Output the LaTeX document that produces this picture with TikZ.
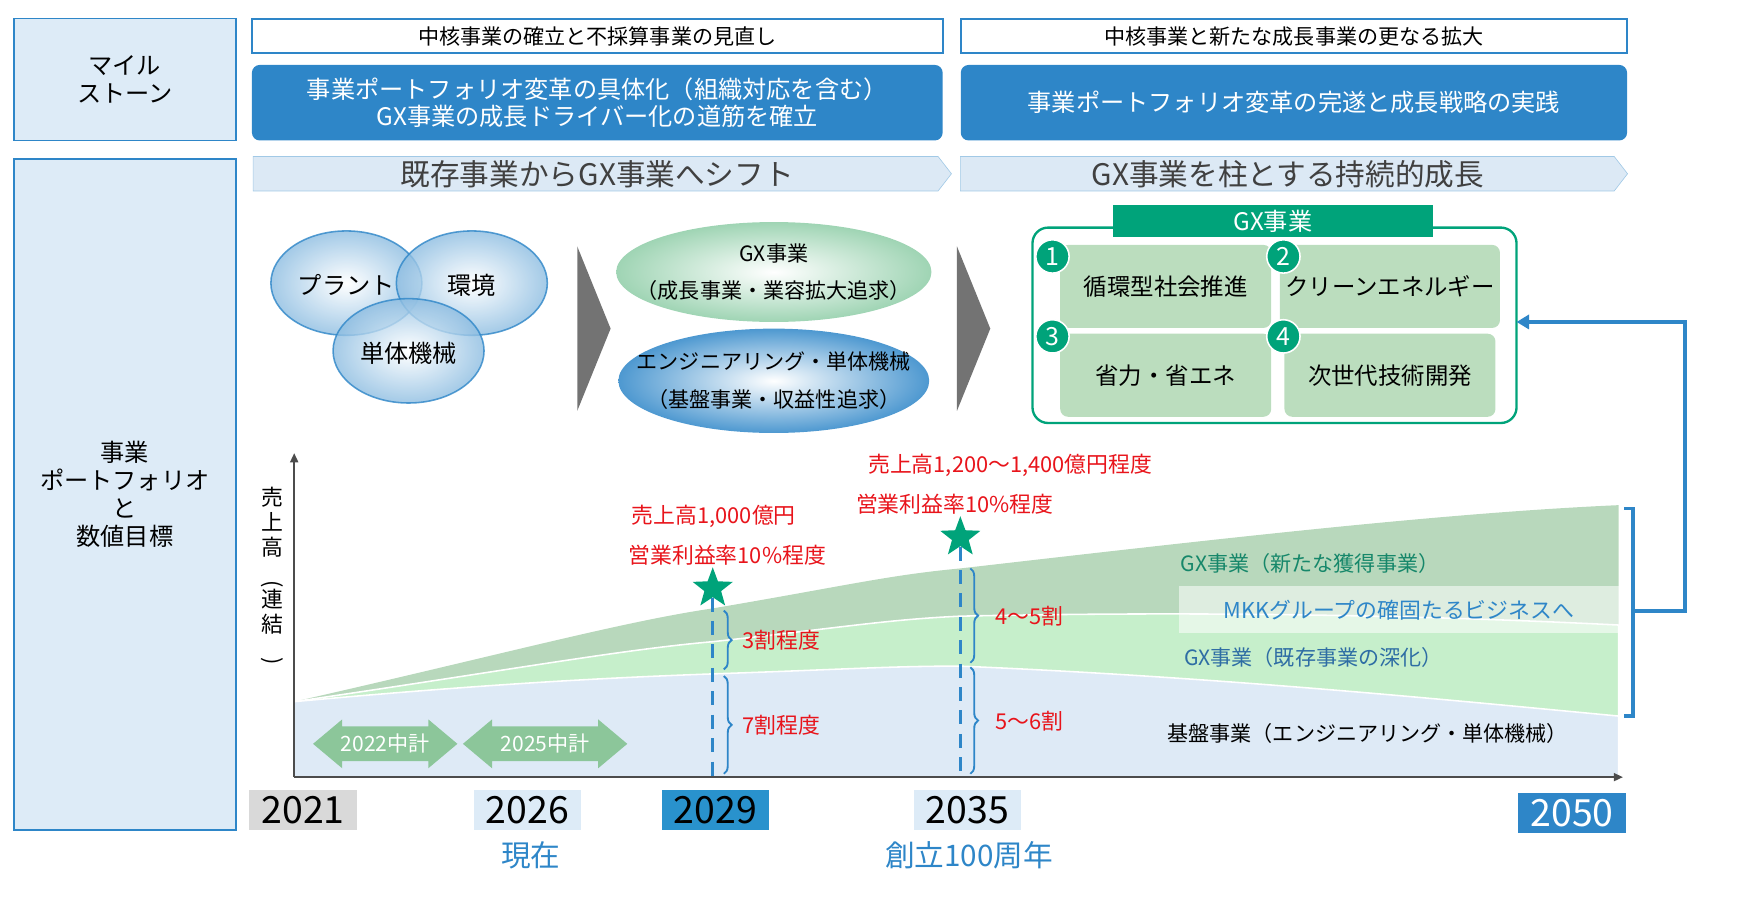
\documentclass[tikz,border=0pt]{standalone}
\usepackage{fontspec}
\setmainfont{Noto Sans CJK JP}
\usetikzlibrary{shapes.geometric,shapes.arrows,arrows.meta,decorations.pathreplacing,positioning}
\definecolor{frameBlue}{HTML}{2E86C8}
\definecolor{paleBlue}{HTML}{DDEBF7}
\definecolor{bandBlue}{HTML}{DCE9F5}
\definecolor{gxGreen}{HTML}{00A37A}
\definecolor{tileGreen}{HTML}{BBDDBE}
\definecolor{darkArea}{HTML}{B8D8BC}
\definecolor{lightArea}{HTML}{C6EFCB}
\definecolor{baseArea}{HTML}{DEEAF6}
\definecolor{planGreen}{HTML}{8CC69A}
\definecolor{goalRed}{HTML}{E8141B}
\definecolor{labelTeal}{HTML}{16876A}
\definecolor{labelBlue}{HTML}{2E6DA4}
\tikzstyle{sidebox}=[rectangle, draw=frameBlue, fill=paleBlue, line width=1pt, align=center, font=\fontsize{15.5}{18}\selectfont]
\tikzstyle{thinbox}=[rectangle, draw=frameBlue, fill=white, line width=1.2pt, minimum height=0.75cm, font=\fontsize{13.5}{14}\selectfont]
\tikzstyle{bluebox}=[rectangle, rounded corners=5pt, fill=frameBlue, text=white, minimum height=1.7cm, align=center, font=\fontsize{15.5}{17.5}\selectfont]
\tikzstyle{tile}=[rectangle, rounded corners=5pt, fill=tileGreen, minimum width=4.75cm, minimum height=1.87cm, font=\fontsize{15}{17}\selectfont]
\tikzstyle{num}=[circle, fill=gxGreen, draw=white, line width=1pt, text=white, minimum size=0.75cm, inner sep=0pt, font=\fontsize{16}{16}\selectfont]
\tikzstyle{goal}=[text=goalRed, font=\fontsize{14}{15}\selectfont]
\tikzstyle{share}=[text=goalRed, anchor=west, font=\fontsize{14}{15}\selectfont]
\tikzstyle{year}=[minimum width=2.42cm, minimum height=0.9cm, inner sep=0pt, font=\fontsize{24}{24}\selectfont]
\tikzstyle{brace}=[draw=frameBlue, line width=1.2pt, decorate, decoration={brace, amplitude=5pt}]
\tikzstyle{plan}=[double arrow, fill=planGreen, text=white, minimum width=1.1cm, double arrow head extend=0.12cm, double arrow tip angle=80, inner sep=2pt, font=\fontsize{13.5}{13.5}\selectfont]
\begin{document}
\begin{tikzpicture}[x=0.025cm, y=-0.025cm]
\useasboundingbox (0,0) rectangle (1570,816);
% left column
\node (milestone) [sidebox, minimum width=5cm, minimum height=2.75cm] at (112.5,71.5) {マイル\\ストーン};
\node (portfolio) [sidebox, minimum width=5cm, minimum height=15.1cm] at (112.5,445.5) {事業\\ポートフォリオ\\と\\数値目標};
% milestones
\node (phaseA) [thinbox, minimum width=15.55cm] at (538,32.5) {中核事業の確立と不採算事業の見直し};
\node (phaseB) [thinbox, minimum width=15cm] at (1165.5,32.5) {中核事業と新たな成長事業の更なる拡大};
\node (goalA) [bluebox, minimum width=15.55cm] at (538,92.5) {事業ポートフォリオ変革の具体化（組織対応を含む）\\GX事業の成長ドライバー化の道筋を確立};
\node (goalB) [bluebox, minimum width=15cm] at (1165.5,92.5) {事業ポートフォリオ変革の完遂と成長戦略の実践};
% chevron bands
\fill[bandBlue, draw=frameBlue!45] (228,141) -- (845,141) -- (857,156.5) -- (845,172) -- (228,172) -- cycle;
\fill[bandBlue, draw=frameBlue!45] (865,141) -- (1454,141) -- (1466,156.5) -- (1454,172) -- (865,172) -- cycle;
\node (shift) [text=black!75, font=\fontsize{19}{19}\selectfont] at (538,157) {既存事業からGX事業へシフト};
\node (growth) [text=black!75, font=\fontsize{19}{19}\selectfont] at (1160,157) {GX事業を柱とする持続的成長};
% venn
\foreach \name/\cx/\cy in {plant/312/255, env/425/255, unit/368/316}
  \shade[inner color=white, outer color=frameBlue!55, draw=frameBlue, line width=1pt, opacity=0.8] (\cx,\cy) ellipse (68 and 47);
\node (plant) [font=\fontsize{15.5}{15}\selectfont] at (312,257) {プラント};
\node (env) [font=\fontsize{15.5}{15}\selectfont] at (425,257) {環境};
\node (unit) [font=\fontsize{15.5}{15}\selectfont] at (368,318) {単体機械};
% grey chevrons
\fill[black!55] (520,222) -- (550,296) -- (520,370) -- cycle;
\fill[black!55] (862,222) -- (892,296) -- (862,370) -- cycle;
% middle ellipses
\shade[inner color=white, outer color=tileGreen!85!gxGreen] (697,245) ellipse (142 and 45);
\shade[inner color=white, outer color=frameBlue!85] (697,343) ellipse (140 and 47);
\node (gxOval) [align=center, font=\fontsize{13.5}{24}\selectfont] at (697,245) {GX事業\\（成長事業・業容拡大追求）};
\node (baseOval) [align=center, font=\fontsize{13.5}{24}\selectfont] at (697,343) {エンジニアリング・単体機械\\（基盤事業・収益性追求）};
% GX business box
\draw[gxGreen, line width=1.5pt, rounded corners=10pt] (930,205) rectangle (1366,381);
\node (gxHead) [fill=gxGreen, text=white, minimum width=7.2cm, minimum height=0.72cm, font=\fontsize{15.5}{15}\selectfont] at (1146.5,199) {GX事業};
\node (circular) [tile] at (1050,258) {循環型社会推進};
\node (clean) [tile] at (1252,258) {クリーンエネルギー};
\node (saving) [tile] at (1050,338) {省力・省エネ};
\node (nextTech) [tile] at (1252,338) {次世代技術開発};
\node (n1) [num] at (948,231) {1};
\node (n2) [num] at (1156,231) {2};
\node (n3) [num] at (948,303) {3};
\node (n4) [num] at (1156,303) {4};
% chart areas
\fill[darkArea] (265,632) .. controls (450,590) and (560,560) .. (642,548) .. controls (760,528) and (800,518) .. (865,512) .. controls (1100,485) and (1300,462) .. (1458,455) -- (1458,700) -- (265,700) -- cycle;
\fill[lightArea, draw=white, line width=1pt] (265,632) .. controls (450,605) and (560,585) .. (642,578) .. controls (760,565) and (800,558) .. (865,555) .. controls (1100,550) and (1300,555) .. (1458,563) -- (1458,700) -- (265,700) -- cycle;
\fill[baseArea, draw=white, line width=1pt] (265,632) .. controls (450,615) and (560,610) .. (642,607) .. controls (760,603) and (800,600) .. (865,600) .. controls (1100,610) and (1300,630) .. (1458,645) -- (1458,700) -- (265,700) -- cycle;
\fill[white, opacity=0.55] (1062,528) rectangle (1458,570);
\coordinate (origin) at (265,700);
\coordinate (xEnd) at (1462,700);
\coordinate (yEnd) at (265,408);
\draw[black!70, line width=1.5pt, -{Triangle[length=6pt,width=5pt]}] (origin) -- (xEnd);
\draw[black!70, line width=1.5pt, -{Triangle[length=6pt,width=5pt]}] (origin) -- (yEnd);
\node (salesLabel) [align=center, inner sep=0pt, font=\fontsize{14}{16}\selectfont] at (245,519) {売\\上\\高\\\rotatebox{-90}{(}\\連\\結\\\rotatebox{-90}{)}};
% plan arrows
\node (plan22) [plan, minimum height=3.25cm] at (347,670) {2022中計};
\node (plan25) [plan, minimum height=3.7cm] at (491,670) {2025中計};
% milestones on chart
\node (star29) [star, star points=5, star point ratio=2.4, fill=gxGreen, minimum size=0.95cm, inner sep=0pt] at (642,530) {};
\node (star35) [star, star points=5, star point ratio=2.4, fill=gxGreen, minimum size=0.95cm, inner sep=0pt] at (865,484) {};
\coordinate (foot29) at (642,700);
\coordinate (foot35) at (865,700);
\draw[frameBlue, line width=1.8pt, dash pattern=on 9pt off 6pt] (star29) -- (foot29);
\draw[frameBlue, line width=1.8pt, dash pattern=on 9pt off 6pt] (star35) -- (foot35);
\node (sales29) [goal] at (643,465) {売上高1,000億円};
\node (margin29) [goal] at (655,500) {営業利益率10\%程度};
\node (sales35) [goal] at (910,419) {売上高1,200～1,400億円程度};
\node (margin35) [goal] at (860,454) {営業利益率10\%程度};
\draw[brace] (652,550) -- (652,603);
\draw[brace] (652,609) -- (652,697);
\draw[brace] (874,512) -- (874,597);
\draw[brace] (874,601) -- (874,697);
\node (gx29) [share] at (664,577) {3割程度};
\node (base29) [share] at (664,653) {7割程度};
\node (gx35) [share] at (892,555) {4～5割};
\node (base35) [share] at (892,650) {5～6割};
% right labels
\node (newGX) [text=labelTeal, font=\fontsize{13.5}{13}\selectfont] at (1180,508) {GX事業（新たな獲得事業）};
\node (mkk) [text=frameBlue, font=\fontsize{14}{13.5}\selectfont] at (1260,550) {MKKグループの確固たるビジネスへ};
\node (deepGX) [text=labelBlue, font=\fontsize{13.5}{13}\selectfont] at (1183,592) {GX事業（既存事業の深化）};
\node (baseBiz) [font=\fontsize{13.5}{13}\selectfont] at (1232,661) {基盤事業（エンジニアリング・単体機械）};
\draw[frameBlue, line width=2.5pt] (1463,458) -- (1471,458) -- (1471,645) -- (1463,645);
\coordinate (bracketMid) at (1471,550);
\coordinate (loopCorner) at (1518,290);
\coordinate (gxEntry) at (1366,290);
\draw[frameBlue, line width=2.5pt, -{Triangle[length=8pt,width=9pt]}] (bracketMid) -| (loopCorner) -- (gxEntry);
% years
\node (y2021) [year, fill=black!15] at (273,730) {2021};
\node (y2026) [year, fill=paleBlue] at (475,730) {2026};
\node (y2029) [year, fill=frameBlue!90!cyan, minimum width=2.42cm] at (644.5,730) {2029};
\node (y2035) [year, fill=paleBlue] at (871.5,730) {2035};
\node (y2050) [year, fill=frameBlue, text=white] at (1416,732) {2050};
\node (now) [text=frameBlue, font=\fontsize{19}{19}\selectfont] at (478,770) {現在};
\node (founding) [text=frameBlue, font=\fontsize{19}{19}\selectfont] at (873,770) {創立100周年};
\end{tikzpicture}
\end{document}
